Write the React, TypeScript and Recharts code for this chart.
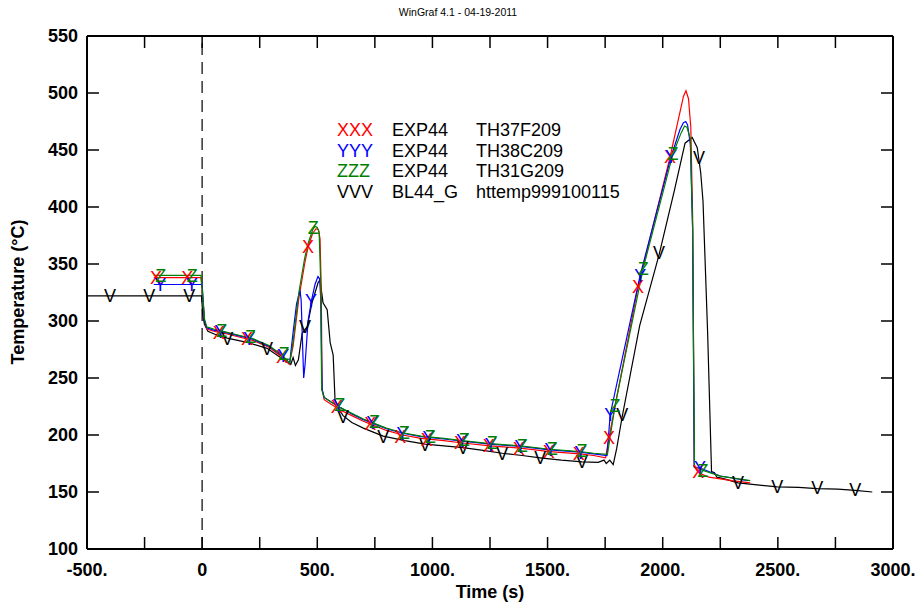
import React from "react";
import {
  ComposedChart,
  Line,
  Scatter,
  XAxis,
  YAxis,
  ReferenceLine,
} from "recharts";

type Pt = [number, number];

// time (s), temperature (°C)
const redLine: Pt[] = [
  [-210, 338], [-5, 338], [3, 320], [10, 300], [20, 293], [50, 291], [100, 289],
  [160, 286], [220, 283], [290, 277], [350, 268], [378, 262], [395, 278], [420, 320],
  [445, 350], [460, 365], [480, 377], [495, 381], [505, 380], [512, 372], [517, 330],
  [521, 240], [530, 231], [560, 227], [600, 222], [650, 217], [700, 212], [750, 208],
  [800, 204], [870, 200], [950, 197], [1050, 195], [1130, 193], [1250, 190.5],
  [1380, 188.5], [1510, 185.5], [1640, 183.5], [1700, 182], [1752, 180], [1767, 198],
  [1893, 330], [2032, 444], [2067, 476], [2090, 497], [2101, 502], [2112, 495],
  [2122, 470], [2130, 390], [2137, 172], [2155, 167], [2200, 163], [2300, 160], [2380, 158],
];
const blueLine: Pt[] = [
  [-210, 332], [-5, 332], [0, 333], [4, 318], [10, 300], [20, 294], [50, 292], [100, 290],
  [160, 287], [220, 284], [290, 278], [350, 269], [380, 263], [395, 290], [410, 315],
  [425, 327], [430, 318], [436, 280], [441, 250], [447, 262], [460, 300], [475, 318],
  [490, 332], [503, 339], [510, 337], [515, 320], [521, 240], [530, 233], [560, 229],
  [600, 224], [650, 218.5], [700, 213.5], [750, 209.5], [800, 205.5], [870, 201.5],
  [950, 198.5], [1050, 196.5], [1130, 194.5], [1250, 192], [1380, 190], [1510, 187],
  [1640, 185], [1700, 183.5], [1758, 182], [1772, 218], [1902, 340], [2036, 444],
  [2075, 468], [2090, 474], [2100, 475], [2108, 472], [2120, 455], [2130, 380],
  [2137, 172], [2162, 171], [2250, 164], [2370, 160],
];
const greenLine: Pt[] = [
  [-210, 340], [-5, 340], [3, 322], [10, 302], [20, 295], [50, 293], [100, 290.5],
  [160, 287.5], [220, 284.5], [290, 278.5], [350, 269.5], [380, 263], [395, 282],
  [420, 325], [445, 355], [460, 368], [480, 380], [490, 383], [500, 382], [508, 378],
  [514, 340], [519, 240], [530, 233], [560, 229], [600, 224], [650, 219], [700, 214],
  [750, 210], [800, 206], [870, 202], [950, 199], [1050, 197], [1130, 195], [1250, 192.5],
  [1380, 190.5], [1510, 187.5], [1640, 185.5], [1700, 184], [1760, 183], [1793, 226],
  [1915, 346], [2045, 447], [2080, 465], [2095, 471], [2105, 470], [2120, 460],
  [2130, 380], [2138, 172], [2175, 169], [2250, 164], [2380, 160],
];
const blackLine: Pt[] = [
  [-500, 322], [-3, 322], [3, 305], [10, 297], [25, 291], [60, 288], [109, 285],
  [200, 281], [282, 276], [340, 268], [370, 265], [385, 262], [395, 268], [405, 261],
  [418, 266], [434, 289], [456, 295], [477, 316], [504, 334], [512, 336], [525, 316],
  [543, 310], [556, 281], [569, 270], [577, 231], [590, 224], [612, 217], [650, 211],
  [700, 206], [786, 199], [880, 195], [968, 192], [1050, 190.5], [1133, 189],
  [1220, 186.5], [1303, 184], [1390, 182], [1468, 180], [1560, 178], [1650, 176.5],
  [1720, 176], [1745, 178], [1755, 175], [1770, 178], [1785, 174], [1800, 188],
  [1824, 216], [1900, 296], [1984, 358], [2050, 414], [2097, 456], [2128, 461],
  [2150, 452], [2165, 430], [2175, 405], [2195, 290], [2212, 168], [2225, 167],
  [2235, 163], [2260, 162], [2327, 158], [2420, 156], [2497, 154.5], [2590, 154],
  [2671, 153], [2760, 152.5], [2836, 151.5], [2910, 150],
];

// symbol positions along each curve
const redMarks: Pt[] = [
  [-200, 338], [-65, 338], [72, 290], [195, 285], [347, 269], [460, 365], [585, 225],
  [730, 210], [860, 199], [975, 196], [1120, 193], [1245, 190.5], [1375, 188.5],
  [1505, 185.5], [1635, 183.5], [1767, 198], [1893, 330], [2032, 444], [2154, 168],
];
const blueMarks: Pt[] = [
  [-182, 332], [-45, 332], [80, 291], [205, 285], [352, 270], [473, 318], [592, 226],
  [740, 211], [870, 201], [983, 198], [1130, 195], [1253, 192], [1383, 190], [1513, 187],
  [1643, 185], [1772, 218], [1902, 340], [2036, 444], [2162, 171],
];
const greenMarks: Pt[] = [
  [-180, 340], [-43, 340], [85, 292], [210, 286], [355, 271], [482, 382], [598, 227],
  [748, 212], [878, 202], [990, 199], [1138, 196], [1260, 193], [1390, 191], [1520, 188],
  [1650, 186], [1793, 226], [1915, 346], [2045, 447], [2175, 169],
];
const blackMarks: Pt[] = [
  [-400, 322], [-230, 322], [-56, 322], [109, 285], [282, 276], [447, 295], [612, 216],
  [786, 199], [968, 192], [1133, 189], [1303, 184], [1468, 180], [1650, 176.5],
  [1824, 218], [1984, 360], [2158, 443], [2327, 158], [2497, 154.5], [2671, 153.5],
  [2836, 152],
];

const xTicks = [-500, -250, 0, 250, 500, 750, 1000, 1250, 1500, 1750, 2000, 2250, 2500, 2750, 3000];
const yTicks = [100, 150, 200, 250, 300, 350, 400, 450, 500, 550];

const series = [
  { key: "black", glyph: "V", color: "#000000", run: "BL44_G", tag: "httemp999100115", line: blackLine, marks: blackMarks },
  { key: "red", glyph: "X", color: "#ff0000", run: "EXP44", tag: "TH37F209", line: redLine, marks: redMarks },
  { key: "blue", glyph: "Y", color: "#0000ff", run: "EXP44", tag: "TH38C209", line: blueLine, marks: blueMarks },
  { key: "green", glyph: "Z", color: "#008000", run: "EXP44", tag: "TH31G209", line: greenLine, marks: greenMarks },
];
const legendOrder = ["red", "blue", "green", "black"];

const FONT = "'Liberation Sans', Arial, Helvetica, sans-serif";
const toRows = (pts: Pt[]) => pts.map(([t, v]) => ({ t, v }));
const fmtX = (v: number) => (v % 500 !== 0 ? "" : v === 0 ? "0" : `${v}.`);

const tickStyle = { fill: "#000", fontSize: 18, fontWeight: "bold", fontFamily: FONT };

function glyphShape(ch: string, color: string) {
  return (p: any) => (
    <text
      x={p.cx}
      y={p.cy + 6.4}
      textAnchor="middle"
      fontSize={18}
      fontFamily={FONT}
      fill={color}
    >
      {ch}
    </text>
  );
}

export default function App() {
  return (
    <div style={{ position: "absolute", left: 0, top: 0, width: 917, height: 608, background: "#fff", fontFamily: FONT }}>
      <ComposedChart
        width={917}
        height={608}
        margin={{ top: 26, right: 14, bottom: 19, left: 7 }}
      >
        <XAxis
          dataKey="t"
          type="number"
          domain={[-500, 3000]}
          ticks={xTicks}
          interval={0}
          allowDataOverflow
          tickFormatter={fmtX}
          tickSize={-12}
          tickMargin={26}
          height={40}
          axisLine={{ stroke: "#000", strokeWidth: 2 }}
          tickLine={{ stroke: "#000", strokeWidth: 1.5 }}
          tick={tickStyle}
        />
        <XAxis
          xAxisId="top"
          orientation="top"
          dataKey="t"
          type="number"
          domain={[-500, 3000]}
          ticks={xTicks}
          interval={0}
          allowDataOverflow
          tickFormatter={() => ""}
          tickSize={-12}
          height={10}
          axisLine={{ stroke: "#000", strokeWidth: 2 }}
          tickLine={{ stroke: "#000", strokeWidth: 1.5 }}
        />
        <YAxis
          dataKey="v"
          type="number"
          domain={[100, 550]}
          ticks={yTicks}
          interval={0}
          allowDataOverflow
          tickSize={-12}
          tickMargin={21}
          width={80}
          axisLine={{ stroke: "#000", strokeWidth: 2 }}
          tickLine={{ stroke: "#000", strokeWidth: 1.5 }}
          tick={tickStyle}
        />
        <YAxis
          yAxisId="right"
          orientation="right"
          dataKey="v"
          type="number"
          domain={[100, 550]}
          ticks={yTicks}
          interval={0}
          allowDataOverflow
          tickFormatter={() => ""}
          tickSize={-12}
          width={10}
          axisLine={{ stroke: "#000", strokeWidth: 2 }}
          tickLine={{ stroke: "#000", strokeWidth: 1.5 }}
        />
        <ReferenceLine x={0} stroke="#333" strokeWidth={1.5} strokeDasharray="12 7" />
        {series.map((s) => (
          <Line
            key={s.key}
            data={toRows(s.line)}
            dataKey="v"
            type="linear"
            stroke={s.color}
            strokeWidth={1.2}
            dot={false}
            activeDot={false}
            isAnimationActive={false}
          />
        ))}
        {series.map((s) => (
          <Scatter
            key={`m-${s.key}`}
            data={toRows(s.marks)}
            dataKey="v"
            shape={glyphShape(s.glyph, s.color)}
            isAnimationActive={false}
          />
        ))}
      </ComposedChart>

      <div style={{ position: "absolute", left: 458, top: 7, transform: "translateX(-50%)", fontSize: 10.5, lineHeight: 1, whiteSpace: "nowrap", color: "#000" }}>
        WinGraf 4.1 - 04-19-2011
      </div>

      {legendOrder.map((k, i) => {
        const s = series.find((x) => x.key === k)!;
        const top = 121.2 + i * 20.5;
        const base = { position: "absolute" as const, top, fontSize: 18, lineHeight: 1, whiteSpace: "nowrap" as const };
        return (
          <React.Fragment key={k}>
            <div style={{ ...base, left: 337, color: s.color }}>{s.glyph.repeat(3)}</div>
            <div style={{ ...base, left: 392, color: "#000" }}>{s.run}</div>
            <div style={{ ...base, left: 476, color: "#000" }}>{s.tag}</div>
          </React.Fragment>
        );
      })}

      <div style={{ position: "absolute", left: 490, top: 583, transform: "translateX(-50%)", fontSize: 18, fontWeight: "bold", lineHeight: 1, whiteSpace: "nowrap" }}>
        Time (s)
      </div>
      <div style={{ position: "absolute", left: 18, top: 292, transform: "translate(-50%, -50%) rotate(-90deg)", fontSize: 18, fontWeight: "bold", lineHeight: 1, whiteSpace: "nowrap" }}>
        Temperature (°C)
      </div>
    </div>
  );
}
